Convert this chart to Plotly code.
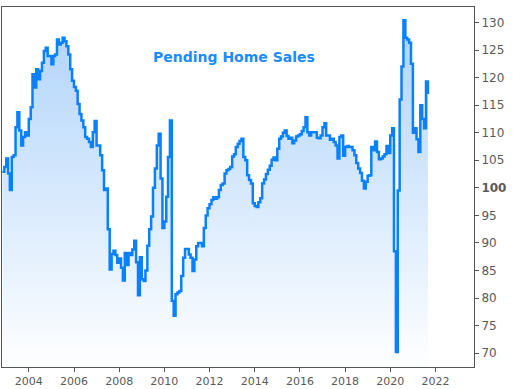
import plotly.graph_objects as go
import pandas as pd

# Monthly index values, Nov 2002 .. Sep 2021
start_month = "2002-11-01"
values = [
    102.9, 103.8, 105.3, 102.6, 99.6, 105.6, 105.9, 111.0, 113.7, 110.4,
    107.7, 109.2, 110.1, 109.5, 112.5, 114.6, 120.6, 118.2, 121.5, 119.7,
    121.2, 122.7, 124.8, 125.4, 123.9, 123.9, 122.4, 123.9, 124.2, 126.9,
    126.0, 126.3, 127.2, 126.6, 125.7, 124.2, 121.5, 119.4, 118.3, 117.6,
    115.2, 113.4, 112.2, 111.0, 109.2, 108.9, 108.3, 107.4, 110.1, 112.1,
    107.7, 107.7, 105.9, 103.2, 99.6, 99.9, 92.5, 85.2, 88.0, 88.6,
    87.8, 86.4, 87.2, 85.5, 83.2, 88.2, 86.0, 88.2, 87.8, 88.8,
    90.4, 86.5, 80.5, 87.4, 83.4, 83.1, 85.0, 89.5, 92.5, 94.8,
    100.0, 103.5, 107.7, 109.8, 101.7, 92.7, 93.9, 98.4, 105.6, 112.2,
    79.5, 76.8, 80.7, 81.0, 81.3, 84.0, 87.3, 88.9, 88.9, 87.9,
    87.3, 84.9, 87.0, 89.4, 90.0, 90.0, 89.4, 92.7, 95.0, 96.3,
    97.0, 97.8, 98.3, 98.0, 98.3, 99.6, 100.5, 100.8, 102.6, 103.2,
    103.4, 103.8, 105.7, 106.1, 107.4, 108.0, 108.5, 108.9, 105.6, 105.0,
    102.3, 101.4, 100.8, 97.2, 96.7, 96.5, 97.4, 98.1, 100.8, 101.5,
    102.5, 103.3, 104.0, 105.1, 105.5, 105.0, 107.1, 108.9, 109.3, 110.0,
    110.4, 109.4, 108.9, 109.1, 108.1, 108.6, 109.3, 109.5, 109.7, 110.3,
    111.0, 112.8, 110.1, 109.5, 110.1, 110.1, 110.1, 109.1, 109.0, 109.5,
    111.0, 111.7, 109.5, 109.5, 108.7, 108.9, 108.3, 107.7, 105.3, 109.2,
    109.5, 105.8, 107.4, 107.6, 107.4, 107.4, 106.8, 105.9, 104.5, 103.5,
    102.7, 101.3, 99.9, 101.1, 102.2, 102.3, 107.4, 106.8, 108.4, 106.5,
    105.2, 105.3, 105.7, 106.1, 107.6, 106.3, 109.5, 110.8, 88.5, 70.2,
    99.5, 116.0, 122.0, 130.4, 127.2, 126.9, 126.3, 122.5, 110.0, 110.8,
    108.8, 106.5, 115.0, 112.5, 110.8, 119.3, 117.0,
]
dates = pd.date_range(start_month, periods=len(values), freq="MS")

title_text = "Pending Home Sales"
y_ticks = [70, 75, 80, 85, 90, 95, 100, 105, 110, 115, 120, 125, 130]
y_ticktext = [f"<b>{v}</b>" if v == 100 else str(v) for v in y_ticks]
x_ticks = [f"{y}-01-01" for y in range(2004, 2023, 2)]
x_ticktext = [str(y) for y in range(2004, 2023, 2)]
last_marker_value = 116.8

LINE = "#0a80ff"

fig = go.Figure()
fig.add_trace(go.Scatter(
    x=dates, y=values, mode="lines",
    line=dict(color=LINE, width=2.5, shape="hv"),
    fill="tozeroy",
    fillgradient=dict(type="vertical",
                      colorscale=[[0, "rgba(255,255,255,1)"], [1, "#b0d4fb"]],
                      start=67.5, stop=130),
    hoverinfo="skip",
))
fig.add_trace(go.Scatter(
    x=["2023-12-06"], y=[last_marker_value], mode="markers",
    marker=dict(symbol="diamond", size=7, color=LINE),
    cliponaxis=False, hoverinfo="skip",
))

fig.update_layout(
    width=513, height=389,
    margin=dict(l=1, r=39, t=7, b=19),
    paper_bgcolor="white", plot_bgcolor="white",
    showlegend=False,
    annotations=[dict(
        text=f"<b>{title_text}</b>", xref="paper", yref="paper",
        x=0.491, y=0.86, xanchor="center", yanchor="middle", showarrow=False,
        font=dict(family="DejaVu Sans", size=14, color="#1a8cff"),
    )],
)
fig.update_xaxes(
    type="date", range=["2002-10-25", "2023-09-16"],
    tickvals=x_ticks, ticktext=x_ticktext,
    ticks="outside", ticklen=4, tickcolor="#555",
    showline=True, linecolor="#555", linewidth=1, mirror=True,
    showgrid=False, zeroline=False,
    tickfont=dict(family="DejaVu Sans", size=11, color="#5a5a5a"),
)
fig.update_yaxes(
    side="right", range=[67.5, 132.8],
    tickvals=y_ticks, ticktext=y_ticktext,
    ticks="outside", ticklen=4, tickcolor="#555",
    showline=True, linecolor="#555", linewidth=1, mirror=True,
    showgrid=False, zeroline=False,
    tickfont=dict(family="DejaVu Sans", size=12, color="#5a5a5a"),
)

fig.write_html("out.html", config={"displayModeBar": False},
               post_script="document.body.style.margin='0';document.body.style.overflow='hidden';")
